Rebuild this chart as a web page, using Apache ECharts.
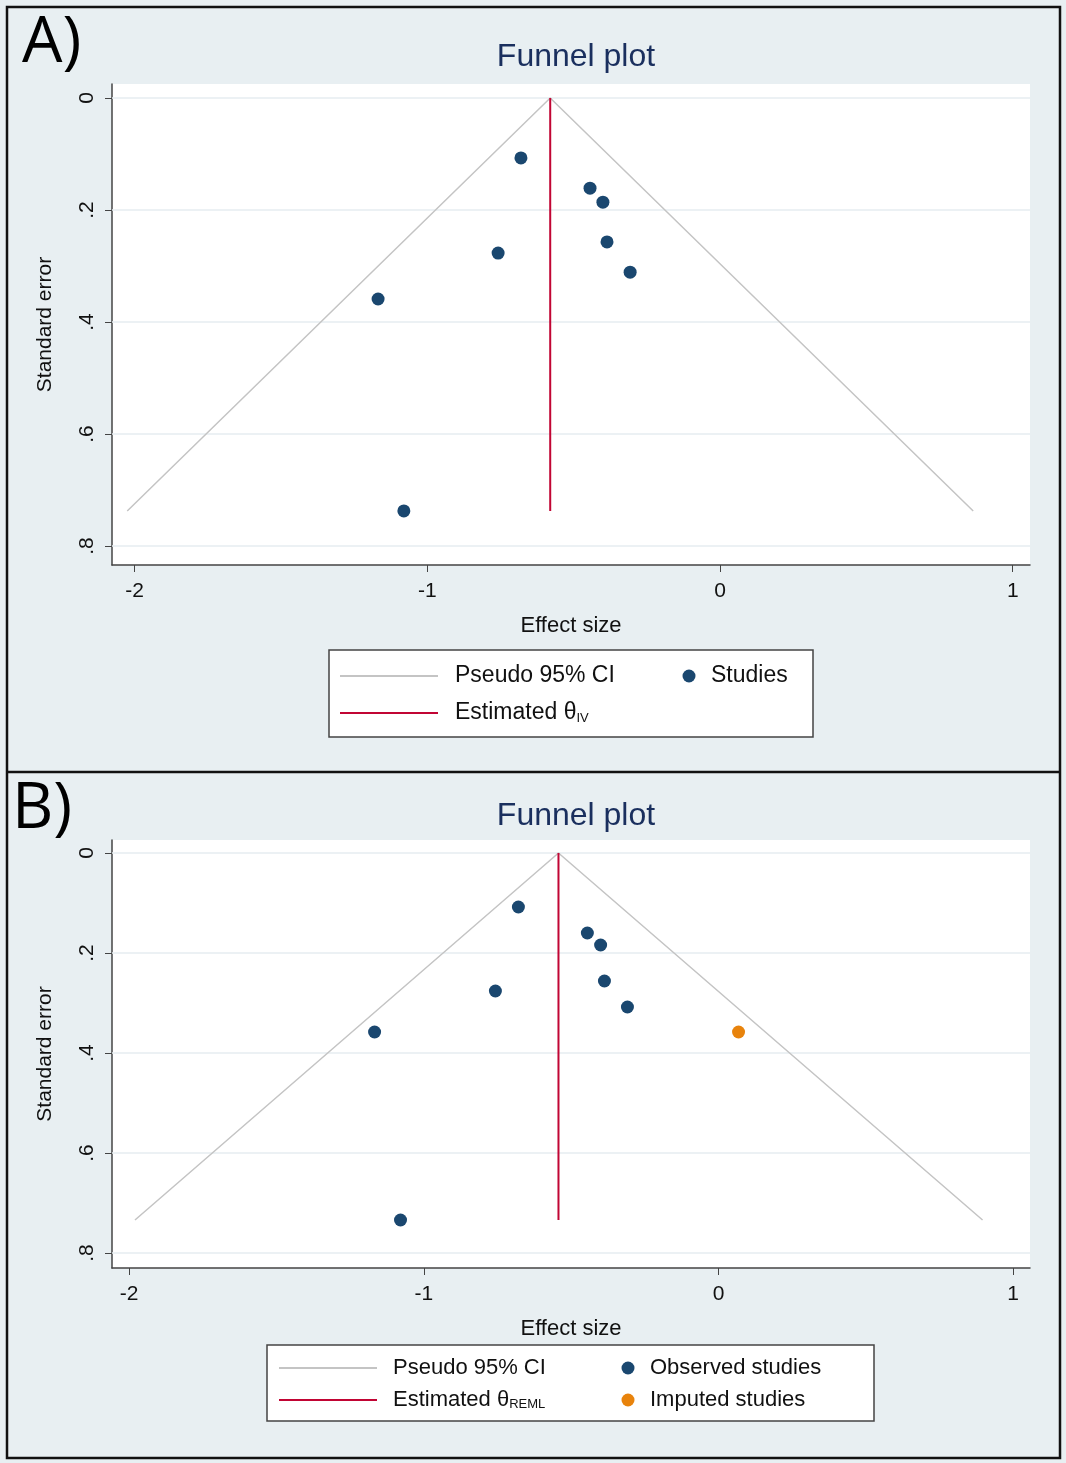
<!DOCTYPE html>
<html style="height:100%">
<meta charset="utf-8" />
<title>Funnel plots</title>
<script src="https://cdn.jsdelivr.net/npm/echarts@6/dist/echarts.min.js"></script>
<body style="margin:0;height:100%;background:#e8eff2">
<div id="chartmain" style="width:1066px;height:1463px;"></div>
<script>
// panel A : observed studies (effect size, standard error)
var studiesA = [[-0.68,0.107],[-0.444,0.161],[-0.40,0.186],[-0.386,0.257],[-0.307,0.311],[-0.758,0.277],[-1.168,0.359],[-1.08,0.7375]];
var thetaA = -0.58;
var funnelA = [[-2.025,0.7375],[-0.58,0],[0.865,0.7375]];
// panel B
var studiesB = [[-0.679,0.108],[-0.445,0.16],[-0.40,0.184],[-0.387,0.256],[-0.309,0.308],[-0.757,0.276],[-1.167,0.358],[-1.079,0.734]];
var imputedB = [[0.068,0.358]];
var thetaB = -0.543;
var funnelB = [[-1.98,0.734],[-0.543,0],[0.896,0.734]];
var seTicks = [0,0.2,0.4,0.6,0.8];
var esTicks = [-2,-1,0,1];
var seLabels = {0:'0',0.2:'.2',0.4:'.4',0.6:'.6',0.8:'.8'};

var FONT = 'Liberation Sans, Arial, sans-serif';
var NAVY = '#1a476f', RED = '#c10534', GRAY = '#c4c4c4', ORANGE = '#e8830c';

function xAx(idx, min, max){
    return {gridIndex:idx, type:'value', min:min, max:max,
        name:'Effect size', nameLocation:'middle', nameGap:50,
        nameTextStyle:{fontSize:22, color:'#111', fontFamily:FONT},
        axisLine:{onZero:false, lineStyle:{color:'#444', width:1.5}},
        axisTick:{customValues:esTicks, length:7, lineStyle:{color:'#444'}},
        axisLabel:{customValues:esTicks, margin:16, fontSize:21, color:'#111', fontFamily:FONT},
        splitLine:{show:false}};
}
function yAx(idx, min, max){
    return {gridIndex:idx, type:'value', inverse:true, min:min, max:max,
        name:'Standard error', nameLocation:'middle', nameGap:56, nameRotate:90,
        nameTextStyle:{fontSize:21, color:'#111', fontFamily:FONT},
        axisLine:{show:true, onZero:false, lineStyle:{color:'#444', width:1.5}},
        axisTick:{show:true, customValues:seTicks, length:7, lineStyle:{color:'#444'}},
        axisLabel:{customValues:seTicks, rotate:90, margin:14, fontSize:21, color:'#111', fontFamily:FONT,
            formatter:function(v){ return seLabels[Math.round(v*10)/10]; }},
        splitLine:{show:false}};
}
function seriesFor(idx, funnel, theta, studies){
    var bot = funnel[0][1];
    return [
        {type:'line', xAxisIndex:idx, yAxisIndex:idx, data:[], z:1,
         markLine:{silent:true, symbol:'none', label:{show:false}, z:1,
            lineStyle:{color:'#e6edf0', type:'solid', width:1.5},
            data:seTicks.map(function(v){ return {yAxis:v}; })}},
        {type:'line', xAxisIndex:idx, yAxisIndex:idx, data:funnel, symbol:'none',
         lineStyle:{color:GRAY, width:1.5}, z:2},
        {type:'line', xAxisIndex:idx, yAxisIndex:idx, data:[[theta,0],[theta,bot]], symbol:'none',
         lineStyle:{color:RED, width:2}, z:3},
        {type:'scatter', xAxisIndex:idx, yAxisIndex:idx, data:studies, symbolSize:13,
         itemStyle:{color:NAVY, opacity:1}, z:4}
    ];
}

function legendItems(x0, y0, w, h, fs, items){
    var g = [{type:'rect', shape:{x:x0, y:y0, width:w, height:h},
        style:{fill:'#fff', stroke:'#444', lineWidth:1.5}}];
    items.forEach(function(it){
        if(it.line){
            g.push({type:'line', shape:{x1:it.x, y1:it.y, x2:it.x+98, y2:it.y},
                style:{stroke:it.line, lineWidth:2}});
        } else {
            g.push({type:'circle', shape:{cx:it.x, cy:it.y, r:6.5}, style:{fill:it.dot}});
        }
        g.push({type:'text', x:it.tx, y:it.y, style:{text:it.text, rich:{
            s:{fontSize:13, fontFamily:FONT, fill:'#111', verticalAlign:'bottom', padding:[8,0,0,0]}},
            fontSize:fs, fontFamily:FONT, fill:'#111', verticalAlign:'middle'}});
    });
    return g;
}

var myChart = echarts.init(document.getElementById('chartmain'));
var option = {
    backgroundColor:'#e8eff2',
    animation:false,
    title:[
        {text:'Funnel plot', left:571, textAlign:'center', top:36, textStyle:{fontSize:32, fontWeight:'normal', color:'#1a2f5e', fontFamily:FONT}},
        {text:'Funnel plot', left:571, textAlign:'center', top:795, textStyle:{fontSize:32, fontWeight:'normal', color:'#1a2f5e', fontFamily:FONT}}
    ],
    grid:[
        {left:112, width:918, top:84, height:481, show:true, backgroundColor:'#fff', borderWidth:0},
        {left:112, width:918, top:840, height:428, show:true, backgroundColor:'#fff', borderWidth:0}
    ],
    xAxis:[xAx(0, -2.077, 1.059), xAx(1, -2.058, 1.057)],
    yAxis:[yAx(0, -0.025, 0.834), yAx(1, -0.026, 0.83)],
    series:seriesFor(0, funnelA, thetaA, studiesA)
        .concat(seriesFor(1, funnelB, thetaB, studiesB))
        .concat([{type:'scatter', xAxisIndex:1, yAxisIndex:1, data:imputedB, symbolSize:13,
            itemStyle:{color:ORANGE, opacity:1}, z:4}]),
    graphic:[
        {type:'rect', shape:{x:7, y:7, width:1053, height:1451}, style:{fill:'none', stroke:'#111', lineWidth:2.5}},
        {type:'line', shape:{x1:7, y1:772, x2:1060, y2:772}, style:{stroke:'#111', lineWidth:2.5}},
        {type:'text', x:22, y:12, style:{text:'A)', fontSize:64, fontFamily:'Open Sans, sans-serif', fill:'#000'}},
        {type:'text', x:12, y:778, style:{text:'B)', fontSize:64, fontFamily:'Open Sans, sans-serif', fill:'#000'}}
    ].concat(legendItems(329, 650, 484, 87, 23, [
        {line:GRAY, x:340, y:676, tx:455, text:'Pseudo 95% CI'},
        {dot:NAVY, x:689, y:676, tx:711, text:'Studies'},
        {line:RED, x:340, y:713, tx:455, text:'Estimated θ{s|IV}'}
    ])).concat(legendItems(267, 1345, 607, 76, 22, [
        {line:GRAY, x:279, y:1368, tx:393, text:'Pseudo 95% CI'},
        {dot:NAVY, x:628, y:1368, tx:650, text:'Observed studies'},
        {line:RED, x:279, y:1400, tx:393, text:'Estimated θ{s|REML}'},
        {dot:ORANGE, x:628, y:1400, tx:650, text:'Imputed studies'}
    ]))
};
myChart.setOption(option);
</script>
</body>
</html>
